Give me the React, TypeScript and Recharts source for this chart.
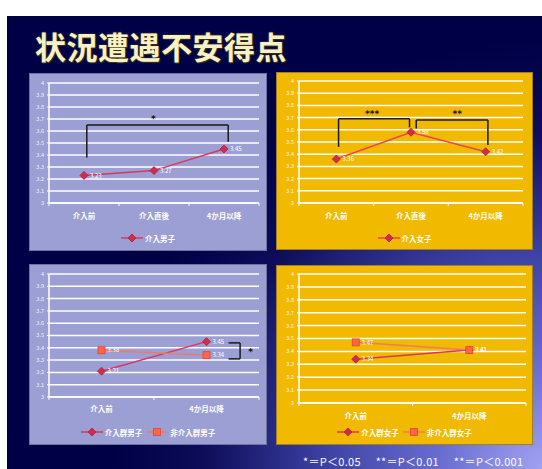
import React from "react";
import {
  CartesianGrid,
  LabelList,
  Line,
  LineChart,
  ReferenceDot,
  ReferenceLine,
  XAxis,
  YAxis,
} from "recharts";

const threePoints = ["介入前", "介入直後", "4か月以降"];
const twoPoints = ["介入前", "4か月以降"];

const boysIntervention = [3.23, 3.27, 3.45];
const girlsIntervention = [3.36, 3.58, 3.42];
const boysGroupIntervention = [3.21, 3.45];
const boysGroupControl = [3.38, 3.34];
const girlsGroupIntervention = [3.34, 3.41];
const girlsGroupControl = [3.47, 3.41];

const yTicks = [3, 3.1, 3.2, 3.3, 3.4, 3.5, 3.6, 3.7, 3.8, 3.9, 4];

const font = "'Noto Sans CJK JP', 'Noto Sans', sans-serif";
const lavender = "#9b9fd3";
const gold = "#f1b900";

type Marker = "diamond" | "square";

type Series = {
  key: string;
  name: string;
  values: number[];
  stroke: string;
  marker: Marker;
};

type Bracket = { points: [number, number][] };
type Star = { x: number; y: number; text: string };

type PanelProps = {
  left: number;
  top: number;
  width: number;
  height: number;
  bg: string;
  yAxisWidth: number;
  margin: { top: number; right: number; bottom: number };
  xAxisHeight: number;
  labelOffset: number;
  legendTop: number;
  categories: string[];
  series: Series[];
  brackets?: Bracket[];
  stars?: Star[];
};

function markerShape(marker: Marker, cx: number, cy: number, key?: string) {
  if (marker === "diamond") {
    return (
      <path
        key={key}
        d={`M${cx},${cy - 4} L${cx + 4},${cy} L${cx},${cy + 4} L${cx - 4},${cy} Z`}
        fill="#d22c4c"
        stroke="#b81a3a"
        strokeWidth={0.8}
      />
    );
  }
  return (
    <rect
      key={key}
      x={cx - 3.5}
      y={cy - 3.5}
      width={7}
      height={7}
      fill="#ff6547"
      stroke="#e0452e"
      strokeWidth={0.8}
    />
  );
}

function XTick({ x = 0, y = 0, payload, labels, labelOffset }: any) {
  const v = payload?.value as number;
  if (Number.isInteger(v)) {
    return (
      <text
        x={x}
        y={y + labelOffset}
        textAnchor="middle"
        dominantBaseline="middle"
        fill="#ffffff"
        fontSize={7.5}
        fontWeight={700}
        fontFamily={font}
      >
        {labels[v]}
      </text>
    );
  }
  return <line x1={x} x2={x} y1={y} y2={y + 3} stroke="#ffffff" strokeWidth={1} />;
}

function Panel(p: PanelProps) {
  const n = p.categories.length;
  const data = p.categories.map((c, i) => {
    const row: Record<string, number | string> = { x: i, cat: c };
    p.series.forEach((s) => {
      row[s.key] = s.values[i];
    });
    return row;
  });
  const xTicks: number[] = [];
  for (let t = -0.5; t <= n - 0.5 + 1e-9; t += 0.5) xTicks.push(t);

  return (
    <div
      style={{
        position: "absolute",
        left: p.left,
        top: p.top,
        width: p.width,
        height: p.height,
        background: p.bg,
        boxShadow: "inset 0 0 0 1px rgba(60,60,90,0.45)",
      }}
    >
      <LineChart
        width={p.width}
        height={p.height}
        data={data}
        margin={{ top: p.margin.top, right: p.margin.right, bottom: p.margin.bottom, left: 0 }}
      >
        <CartesianGrid vertical={false} stroke="#ffffff" strokeWidth={1.5} />
        <XAxis
          dataKey="x"
          type="number"
          domain={[-0.5, n - 0.5]}
          ticks={xTicks}
          interval={0}
          height={p.xAxisHeight}
          tickLine={false}
          tickSize={0}
          tickMargin={0}
          axisLine={{ stroke: "#ffffff", strokeWidth: 1.5 }}
          tick={<XTick labels={p.categories} labelOffset={p.labelOffset} />}
        />
        <YAxis
          type="number"
          domain={[3, 4]}
          ticks={yTicks}
          interval={0}
          width={p.yAxisWidth}
          tickSize={2}
          tickMargin={3}
          tickLine={{ stroke: "#ffffff" }}
          axisLine={{ stroke: "#ffffff", strokeWidth: 1.5 }}
          tick={{ fill: "#f4f4f8", fontSize: 5.5, fontFamily: font }}
          tickFormatter={(v: number) => String(Number(v.toFixed(1)))}
        />
        {p.series.map((s) => (
          <Line
            key={s.key}
            dataKey={s.key}
            name={s.name}
            stroke={s.stroke}
            strokeWidth={1.5}
            isAnimationActive={false}
            dot={(d: any) => markerShape(s.marker, d.cx, d.cy, `${s.key}-${d.index}`)}
          >
            <LabelList
              dataKey={s.key}
              position="right"
              offset={6}
              fill="#ffffff"
              fontSize={6}
              fontFamily={font}
              formatter={(v: any) => Number(v).toFixed(2)}
            />
          </Line>
        ))}
        {(p.brackets ?? []).flatMap((b, bi) =>
          b.points.slice(1).map((pt, i) => (
            <ReferenceLine
              key={`br-${bi}-${i}`}
              segment={[
                { x: b.points[i][0], y: b.points[i][1] },
                { x: pt[0], y: pt[1] },
              ]}
              stroke="#1a1a1a"
              strokeWidth={1.5}
            />
          ))
        )}
        {(p.stars ?? []).map((s, i) => (
          <ReferenceDot
            key={`st-${i}`}
            x={s.x}
            y={s.y}
            r={0}
            fill="none"
            stroke="none"
            label={{
              value: s.text,
              position: "center",
              fill: "#111111",
              fontSize: 9,
              fontWeight: 700,
              fontFamily: "'DejaVu Sans', sans-serif",
            }}
          />
        ))}
      </LineChart>
      <div
        style={{
          position: "absolute",
          left: 0,
          right: 0,
          top: p.legendTop - 6,
          height: 12,
          display: "flex",
          justifyContent: "center",
          alignItems: "center",
          gap: 4,
          fontFamily: font,
          fontSize: 7.5,
          fontWeight: 700,
          color: "#ffffff",
        }}
      >
        {p.series.map((s) => (
          <div key={s.key} style={{ display: "flex", alignItems: "center", gap: 2 }}>
            <svg width={22} height={10}>
              <line x1={0} x2={22} y1={5} y2={5} stroke={s.stroke} strokeWidth={1.5} />
              {markerShape(s.marker, 11, 5)}
            </svg>
            <span>{s.name}</span>
          </div>
        ))}
      </div>
    </div>
  );
}

export default function App() {
  return (
    <div
      style={{
        position: "absolute",
        left: 0,
        top: 0,
        width: 542,
        height: 469,
        background: "#ffffff",
        overflow: "hidden",
        fontFamily: font,
      }}
    >
      <div
        style={{
          position: "absolute",
          left: 7,
          top: 16,
          width: 535,
          height: 453,
          background:
            "radial-gradient(circle at 100% 100%, #a2a2f2 0px, #6a6ed2 100px, #3c40a2 220px, #0c0c58 340px, #000046 430px)",
        }}
      />
      <div
        style={{
          position: "absolute",
          left: 35,
          top: 29,
          fontSize: 31,
          lineHeight: "34px",
          fontWeight: 700,
          color: "#f7f1c6",
          textShadow: "1px 1px 1px #3a3010, 0 0 2px #6a5a20",
          letterSpacing: 0.5,
        }}
      >
        状況遭遇不安得点
      </div>

      <Panel
        left={29}
        top={73}
        width={238}
        height={178}
        bg={lavender}
        yAxisWidth={20}
        margin={{ top: 10, right: 8, bottom: 26 }}
        xAxisHeight={22}
        labelOffset={14}
        legendTop={165}
        categories={threePoints}
        series={[
          { key: "a", name: "介入男子", values: boysIntervention, stroke: "#d8385a", marker: "diamond" },
        ]}
        brackets={[
          { points: [[0.04, 3.38], [0.04, 3.65], [2.06, 3.65], [2.06, 3.51]] },
        ]}
        stars={[{ x: 0.99, y: 3.7, text: "*" }]}
      />

      <Panel
        left={276}
        top={72}
        width={257}
        height={178}
        bg={gold}
        yAxisWidth={23}
        margin={{ top: 9, right: 10, bottom: 25 }}
        xAxisHeight={22}
        labelOffset={14}
        legendTop={166}
        categories={threePoints}
        series={[
          { key: "a", name: "介入女子", values: girlsIntervention, stroke: "#ea4650", marker: "diamond" },
        ]}
        brackets={[
          { points: [[0.03, 3.46], [0.03, 3.69], [0.98, 3.69], [0.98, 3.62]] },
          { points: [[1.07, 3.61], [1.07, 3.68], [2.03, 3.68], [2.03, 3.475]] },
        ]}
        stars={[
          { x: 0.48, y: 3.73, text: "***" },
          { x: 1.62, y: 3.73, text: "**" },
        ]}
      />

      <Panel
        left={29}
        top={264}
        width={238}
        height={181}
        bg={lavender}
        yAxisWidth={20}
        margin={{ top: 10, right: 8, bottom: 26 }}
        xAxisHeight={22}
        labelOffset={13}
        legendTop={168}
        categories={twoPoints}
        series={[
          { key: "a", name: "介入群男子", values: boysGroupIntervention, stroke: "#d8385a", marker: "diamond" },
          { key: "b", name: "非介入群男子", values: boysGroupControl, stroke: "#f07a68", marker: "square" },
        ]}
        brackets={[
          { points: [[1.21, 3.44], [1.32, 3.44], [1.32, 3.31], [1.21, 3.31]] },
        ]}
        stars={[{ x: 1.42, y: 3.37, text: "*" }]}
      />

      <Panel
        left={276}
        top={265}
        width={257}
        height={180}
        bg={gold}
        yAxisWidth={23}
        margin={{ top: 9, right: 7, bottom: 20 }}
        xAxisHeight={22}
        labelOffset={14}
        legendTop={167}
        categories={twoPoints}
        series={[
          { key: "a", name: "介入群女子", values: girlsGroupIntervention, stroke: "#d8385a", marker: "diamond" },
          { key: "b", name: "非介入群女子", values: girlsGroupControl, stroke: "#f07a68", marker: "square" },
        ]}
      />

      <div
        style={{
          position: "absolute",
          left: 303,
          top: 454,
          fontSize: 11,
          lineHeight: "14px",
          color: "#ffffff",
          whiteSpace: "nowrap",
          wordSpacing: 12,
          letterSpacing: 0.3,
        }}
      >
        *＝P＜0.05 **＝P＜0.01 **＝P＜0.001
      </div>
    </div>
  );
}
